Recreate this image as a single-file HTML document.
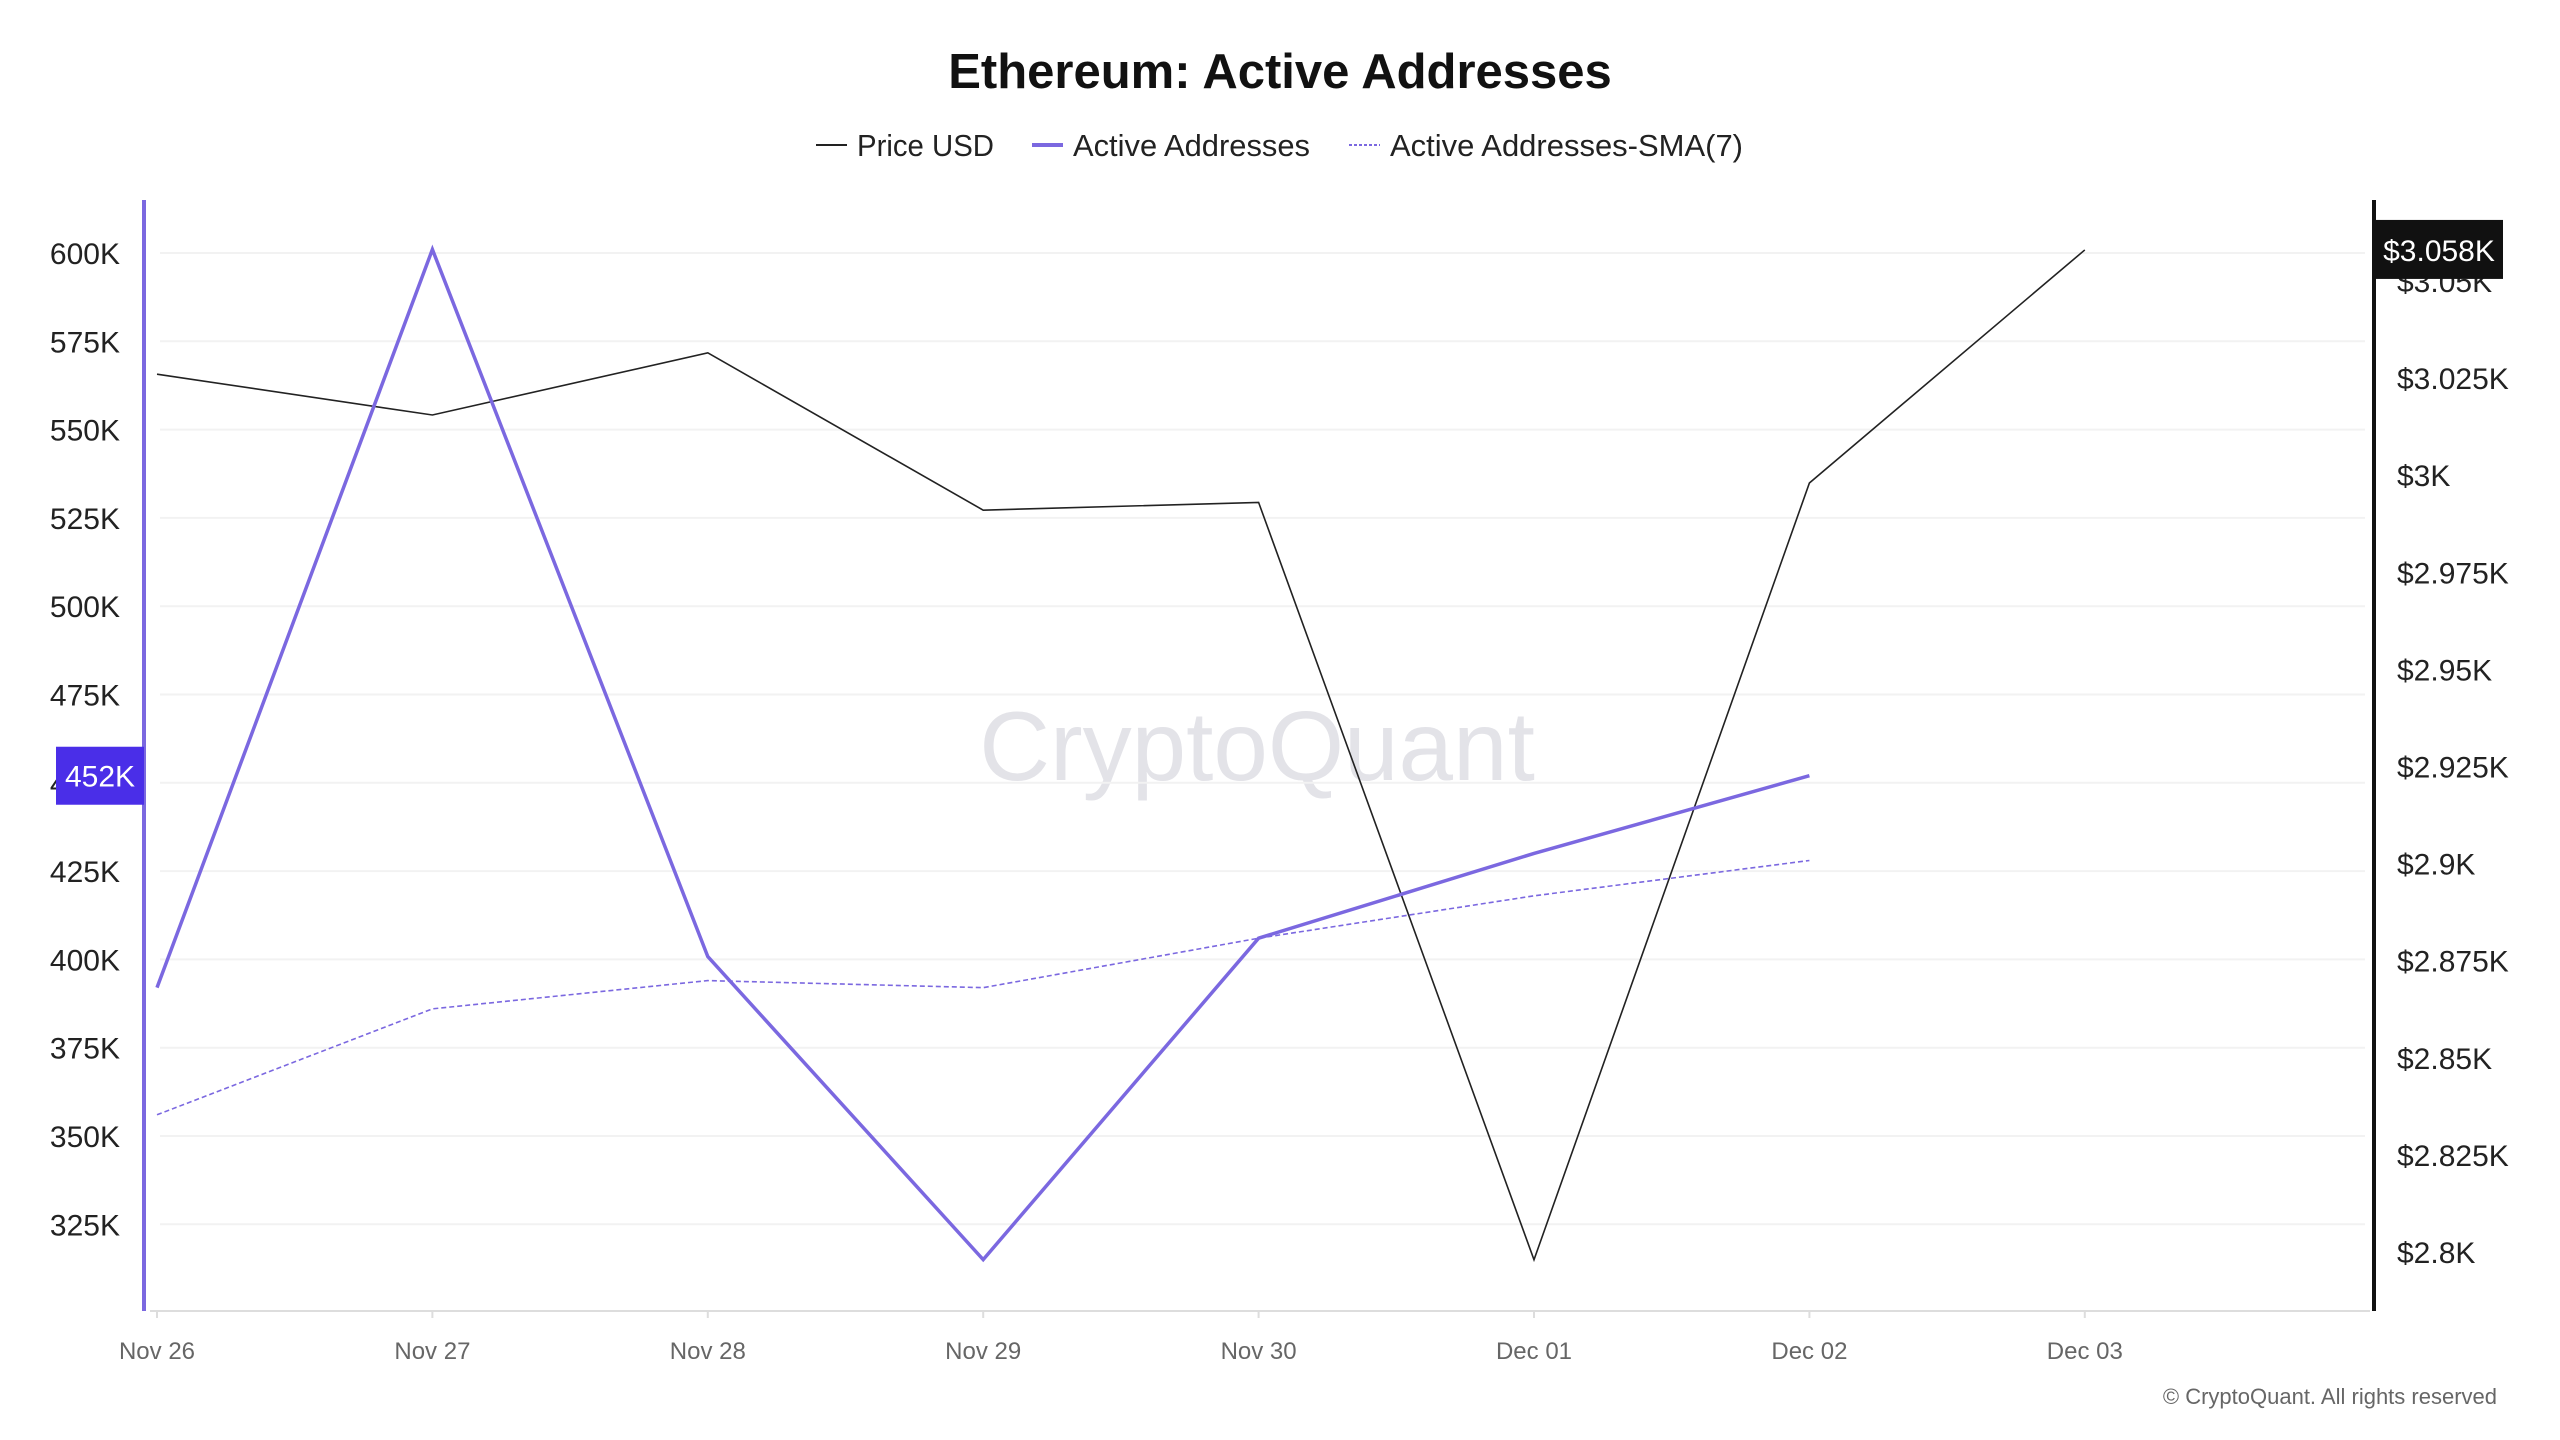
<!DOCTYPE html>
<html><head><meta charset="utf-8"><style>
html,body{margin:0;padding:0;background:#fff;}
svg{display:block;font-family:"Liberation Sans",sans-serif;}
</style></head><body>
<svg id="chart" width="2560" height="1440" viewBox="0 0 2560 1440" xmlns="http://www.w3.org/2000/svg">
<rect width="2560" height="1440" fill="#fff"/>
<text x="1280" y="88" text-anchor="middle" font-size="49" font-weight="bold" fill="#111">Ethereum: Active Addresses</text>
<g font-size="31" fill="#222">
 <g><line x1="816" y1="145" x2="847" y2="145" stroke="#222" stroke-width="2"/><text x="857" y="156" textLength="137" lengthAdjust="spacingAndGlyphs">Price USD</text></g>
 <g><line x1="1032" y1="145" x2="1063" y2="145" stroke="#7b68e0" stroke-width="4"/><text x="1073" y="156" textLength="237" lengthAdjust="spacingAndGlyphs">Active Addresses</text></g>
 <g><line x1="1349" y1="145" x2="1380" y2="145" stroke="#7b68e0" stroke-width="2" stroke-dasharray="3,2"/><text x="1390" y="156" textLength="353" lengthAdjust="spacingAndGlyphs">Active Addresses-SMA(7)</text></g>
</g>
<text x="1257" y="780" text-anchor="middle" font-size="98" fill="#e3e3e8">CryptoQuant</text>
<g id="grid"></g>
<g id="axes"></g>
<g id="series"></g>
<text x="2497" y="1404" text-anchor="end" font-size="22" fill="#666">© CryptoQuant. All rights reserved</text>
</svg>
<script>
const categories=["Nov 26","Nov 27","Nov 28","Nov 29","Nov 30","Dec 01","Dec 02","Dec 03"];
const activeAddresses=[392000,601000,400800,315000,406000,430000,452000];
const smaValues=[356000,386000,394000,392000,406000,418000,428000];
const priceValues=[3026,3015.5,3031.5,2991,2993,2798,2998,3058];
const leftTicks=[600000,575000,550000,525000,500000,475000,450000,425000,400000,375000,350000,325000];
const leftTickLabels=["600K","575K","550K","525K","500K","475K","450K","425K","400K","375K","350K","325K"];
const rightTicks=[3050,3025,3000,2975,2950,2925,2900,2875,2850,2825,2800];
const rightTickLabels=["$3.05K","$3.025K","$3K","$2.975K","$2.95K","$2.925K","$2.9K","$2.875K","$2.85K","$2.825K","$2.8K"];
const NS="http://www.w3.org/2000/svg";
const xScale=i=>157+275.4*i;
const yLeft=v=>253+(600000-v)/25000*88.3;
const yRight=v=>281+(3050-v)/25*97.1;
function mk(tag,attrs,parent){const e=document.createElementNS(NS,tag);for(const k in attrs)e.setAttribute(k,attrs[k]);parent.appendChild(e);return e;}
const grid=document.getElementById('grid'),axes=document.getElementById('axes'),series=document.getElementById('series');
leftTicks.forEach((t,i)=>{
 const y=yLeft(t);
 const g=mk('line',{x1:160,x2:2365,y1:y,y2:y,stroke:'#f2f2f2','stroke-width':2},grid);
 
 
 const tx=mk('text',{x:120,y:y+11,'text-anchor':'end','font-size':30,fill:'#222'},axes);
 tx.textContent=leftTickLabels[i];
 
 
});
rightTicks.forEach((t,i)=>{
 const y=yRight(t);
 const tx=mk('text',{x:2397,y:y+11,'font-size':30,fill:'#222'},axes);
 tx.textContent=rightTickLabels[i];
 
 
});
const xb=mk('line',{x1:150,x2:2370,y1:1311,y2:1311,stroke:'#ddd','stroke-width':2},axes);


categories.forEach((c,i)=>{
 const x=xScale(i);
 mk('line',{x1:x,x2:x,y1:1311,y2:1318,stroke:'#ddd','stroke-width':2},axes);
 const tx=mk('text',{x:x,y:1359,'text-anchor':'middle','font-size':24,fill:'#666'},axes);
 tx.textContent=c;
 
 
});
const la=mk('line',{x1:144,x2:144,y1:200,y2:1311,stroke:'#7b68e0','stroke-width':4},axes);


const ra=mk('line',{x1:2374,x2:2374,y1:200,y2:1311,stroke:'#111','stroke-width':4},axes);


function line(vals,ys,attrs,name){
 const pts=vals.map((v,i)=>xScale(i)+','+ys(v)).join(' ');
 const p=mk('polyline',Object.assign({points:pts,fill:'none'},attrs),series);
 
 
}
line(priceValues,yRight,{stroke:'#222','stroke-width':1.6},'price-usd-line');
line(smaValues,yLeft,{stroke:'#7b68e0','stroke-width':1.6,'stroke-dasharray':'5,3'},'sma-line');
line(activeAddresses,yLeft,{stroke:'#7b68e0','stroke-width':3.5},'active-addresses-line');
const lastA=activeAddresses[activeAddresses.length-1];
const yl=yLeft(lastA);
const lb=mk('g',{},series);


mk('rect',{x:56,y:yl-29,width:88,height:58,fill:'#4a2ee8'},lb);
const lt=mk('text',{x:100,y:yl+11,'text-anchor':'middle','font-size':30,fill:'#fff'},lb);
lt.textContent=Math.round(lastA/1000)+'K';
const lastP=priceValues[priceValues.length-1];
const yp=yRight(lastP);
const pb=mk('g',{},series);


mk('rect',{x:2376,y:yp-30,width:127,height:59,fill:'#111'},pb);
const pt=mk('text',{x:2439,y:yp+11,'text-anchor':'middle','font-size':30,fill:'#fff'},pb);
pt.textContent='$'+(lastP/1000).toFixed(3)+'K';
</script>
</body></html>
